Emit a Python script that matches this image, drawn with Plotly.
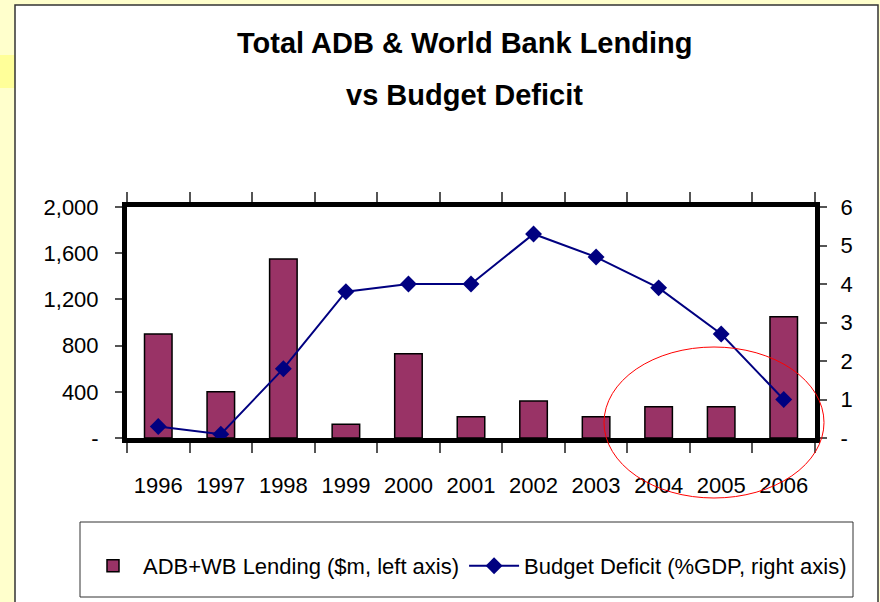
import plotly.graph_objects as go

years = ["1996", "1997", "1998", "1999", "2000", "2001", "2002", "2003", "2004", "2005", "2006"]
lending = [900, 400, 1550, 120, 730, 185, 320, 185, 270, 270, 1050]
deficit = [0.3, 0.1, 1.8, 3.8, 4.0, 4.0, 5.3, 4.7, 3.9, 2.7, 1.0]
left_ticks = [0, 400, 800, 1200, 1600, 2000]
left_labels = ["-", "400", "800", "1,200", "1,600", "2,000"]
right_ticks = [0, 1, 2, 3, 4, 5, 6]
right_labels = ["-", "1", "2", "3", "4", "5", "6"]

title_1 = "Total ADB & World Bank Lending"
title_2 = "vs Budget Deficit"
name_bar = "ADB+WB Lending ($m, left axis)"
name_line = "Budget Deficit (%GDP, right axis)"

W, H = 880, 602
L, R, T, B = 127, 815, 207, 438
FONT = "Liberation Sans, Arial, sans-serif"


def px(x):
    return (x - L) / (R - L)


def py(y):
    return (B - y) / (B - T)


fig = go.Figure()
fig.add_trace(go.Bar(
    x=years, y=lending, name=name_bar,
    marker=dict(color="#993366", line=dict(color="black", width=1.5)),
    yaxis="y",
))
fig.add_trace(go.Scatter(
    x=years, y=deficit, name=name_line, mode="lines+markers",
    line=dict(color="#000080", width=2),
    marker=dict(symbol="diamond", size=13, color="#000080"),
    yaxis="y2", cliponaxis=False,
))

axis_common = dict(showline=True, linecolor="black", linewidth=5, showgrid=False,
                   zeroline=False, tickfont=dict(family=FONT, size=22, color="black"))

fig.update_layout(
    width=W, height=H,
    margin=dict(l=L, r=W - R, t=T, b=H - B, pad=0, autoexpand=False),
    paper_bgcolor="#FFFFCC",
    plot_bgcolor="rgba(0,0,0,0)",
    font=dict(family=FONT, color="black"),
    bargap=0.56,
    showlegend=True,
    xaxis=dict(type="category", range=[-0.5, 10.5], mirror="ticks", ticks="outside",
               tickson="boundaries", ticklen=10, tickwidth=1.5, tickcolor="#555555",
               tickangle=0, ticklabelstandoff=24, **axis_common),
    yaxis=dict(range=[0, 2000], tickmode="array", tickvals=left_ticks, ticktext=left_labels,
               ticks="outside", ticklen=7, tickwidth=1.5, tickcolor="#555555",
               ticklabelstandoff=12, **axis_common),
    yaxis2=dict(range=[0, 6], overlaying="y", side="right", tickmode="array",
                tickvals=right_ticks, ticktext=right_labels, ticks="outside", ticklen=7,
                tickwidth=1.5, tickcolor="#555555", ticklabelstandoff=9, **axis_common),
    legend=dict(orientation="h", x=px(83), xanchor="left",
                y=py(566), yanchor="middle",
                bgcolor="rgba(0,0,0,0)", borderwidth=0,
                font=dict(family=FONT, size=22, color="black"), traceorder="normal",
                itemwidth=50),
    shapes=[
        dict(type="rect", xref="paper", yref="paper", layer="below",
             x0=px(0), x1=px(15), y0=py(88), y1=py(55),
             fillcolor="#FFFF99", line=dict(width=0)),
        dict(type="rect", xref="paper", yref="paper", layer="below",
             x0=px(15), x1=px(878), y0=py(610), y1=py(5),
             fillcolor="white", line=dict(color="#333333", width=1.5)),
        dict(type="rect", xref="paper", yref="paper", layer="below",
             x0=px(80), x1=px(853), y0=py(597), y1=py(522),
             fillcolor="white", line=dict(color="#333333", width=1)),
        dict(type="circle", xref="paper", yref="paper", layer="above",
             x0=px(604), x1=px(824), y0=py(498), y1=py(347),
             line=dict(color="red", width=1)),
    ],
    annotations=[
        dict(text="<b>" + title_1 + "</b>", xref="paper", yref="paper", x=px(464), y=py(43),
             xanchor="center", yanchor="middle", showarrow=False,
             font=dict(family=FONT, size=29, color="black")),
        dict(text="<b>" + title_2 + "</b>", xref="paper", yref="paper", x=px(464), y=py(95),
             xanchor="center", yanchor="middle", showarrow=False,
             font=dict(family=FONT, size=29, color="black")),
    ],
)

fig.write_html("out.html", config={"displayModeBar": False},
               post_script="document.body.style.margin='0';")
